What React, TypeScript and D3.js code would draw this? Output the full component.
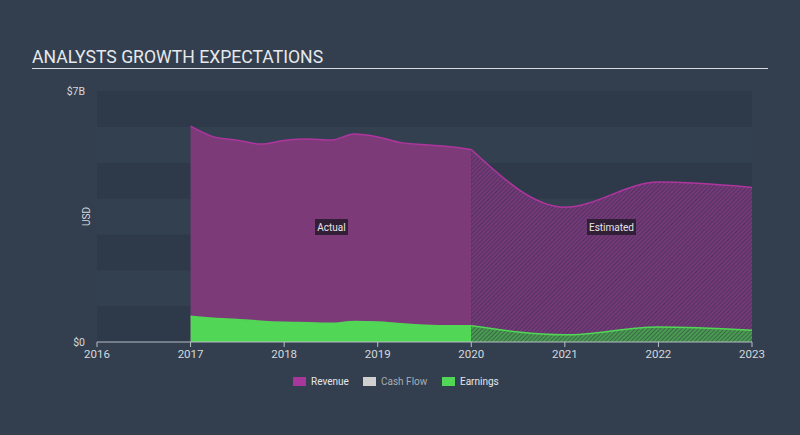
import React from "react";
import * as d3 from "d3";

const actualDates = [2017, 2017.25, 2017.5, 2017.75, 2018, 2018.25, 2018.5, 2018.75, 2019, 2019.25, 2019.5, 2019.75, 2020];
const actualRevenue = [6.02, 5.72, 5.63, 5.52, 5.62, 5.66, 5.63, 5.8, 5.72, 5.56, 5.5, 5.45, 5.37];
const actualEarnings = [0.72, 0.66, 0.63, 0.58, 0.55, 0.54, 0.52, 0.57, 0.56, 0.51, 0.47, 0.45, 0.45];
const estDates = [2020, 2021, 2022, 2023];
const estRevenue = [5.37, 3.76, 4.46, 4.31];
const estEarnings = [0.45, 0.2, 0.42, 0.33];
const yearTicks = [2016, 2017, 2018, 2019, 2020, 2021, 2022, 2023];
const legendItems = ["Revenue", "Cash Flow", "Earnings"];
const legendColors = ["#a8379c", "#d0d0d0", "#52d656"];

const W = 800;
const H = 435;

export default function App() {
  const x = d3.scaleLinear().domain([2016, 2023]).range([97, 752]);
  const y = d3.scaleLinear().domain([0, 7]).range([342, 91]);
  const font = "Roboto, 'Open Sans', sans-serif";

  const area = (dates: number[], vals: number[]) =>
    d3
      .area<number>()
      .x((_, i) => x(dates[i]))
      .y0(y(0))
      .y1((d) => y(d))
      .curve(d3.curveMonotoneX)(vals) || "";
  const line = (dates: number[], vals: number[]) =>
    d3
      .line<number>()
      .x((_, i) => x(dates[i]))
      .y((d) => y(d))
      .curve(d3.curveMonotoneX)(vals) || "";

  const bands = d3.range(7);
  const legendX = [293, 363, 442];

  return (
    <svg
      width={W}
      height={H}
      style={{ position: "absolute", left: 0, top: 0, display: "block" }}
      fontFamily={font}
    >
      <defs>
        <pattern id="hatchPurple" width="3" height="3" patternUnits="userSpaceOnUse" patternTransform="rotate(45)">
          <rect width="3" height="3" fill="#75397a" />
          <line x1="0" y1="0" x2="0" y2="3" stroke="#3a2f4a" strokeWidth="1.2" />
        </pattern>
        <pattern id="hatchGreen" width="3" height="3" patternUnits="userSpaceOnUse" patternTransform="rotate(45)">
          <rect width="3" height="3" fill="#4a9a52" />
          <line x1="0" y1="0" x2="0" y2="3" stroke="#2f4a3e" strokeWidth="1.2" />
        </pattern>
      </defs>
      <rect width={W} height={H} fill="#333f4e" />
      <text x={32} y={63} fill="#e6e9ec" fontSize={17.6}>
        ANALYSTS GROWTH EXPECTATIONS
      </text>
      <line x1={32} x2={768} y1={68.5} y2={68.5} stroke="#d8dce0" strokeWidth={1.2} />

      {bands.map((i) => (
        <rect
          key={i}
          x={x(2016)}
          width={x(2023) - x(2016)}
          y={y(i + 1)}
          height={y(i) - y(i + 1)}
          fill={i % 2 === 0 ? "#2e3a4a" : "#334050"}
        />
      ))}

      <path d={area(actualDates, actualRevenue)} fill="#7c3a79" />
      <path d={area(estDates, estRevenue)} fill="url(#hatchPurple)" />
      <path d={area(actualDates, actualEarnings)} fill="#52d656" />
      <path d={area(estDates, estEarnings)} fill="url(#hatchGreen)" />
      <path d={line(actualDates, actualRevenue)} fill="none" stroke="#b0359e" strokeWidth={1.5} />
      <path d={line(estDates, estRevenue)} fill="none" stroke="#b0359e" strokeWidth={1.5} />
      <path d={line(actualDates, actualEarnings)} fill="none" stroke="#52d656" strokeWidth={1.5} />
      <path d={line(estDates, estEarnings)} fill="none" stroke="#52d656" strokeWidth={1.5} />

      <line x1={x(2016)} x2={x(2023)} y1={y(0)} y2={y(0)} stroke="#b8bfc7" strokeWidth={1} />
      {yearTicks.map((t) => (
        <g key={t}>
          <line x1={x(t)} x2={x(t)} y1={y(0)} y2={y(0) + 5} stroke="#b8bfc7" strokeWidth={1} />
          <text x={x(t)} y={358} textAnchor="middle" fill="#d5d9de" fontSize={11.5}>
            {t}
          </text>
        </g>
      ))}

      <text x={85} y={95} textAnchor="end" fill="#d5d9de" fontSize={10.5}>
        $7B
      </text>
      <text x={85} y={346} textAnchor="end" fill="#d5d9de" fontSize={10.5}>
        $0
      </text>
      <text
        transform={`translate(90, ${y(3.5)}) rotate(-90)`}
        textAnchor="middle"
        fill="#d5d9de"
        fontSize={10}
      >
        USD
      </text>

      <g>
        <rect x={315} y={219} width={33} height={16} fill="#2a1d30" opacity={0.9} />
        <text x={331.5} y={231} textAnchor="middle" fill="#e8e4ea" fontSize={10}>
          Actual
        </text>
      </g>
      <g>
        <rect x={587} y={219} width={49} height={16} fill="#2a1d30" opacity={0.9} />
        <text x={611.5} y={231} textAnchor="middle" fill="#e8e4ea" fontSize={10}>
          Estimated
        </text>
      </g>

      {legendItems.map((name, i) => (
        <g key={name}>
          <rect x={legendX[i]} y={377} width={13} height={9} fill={legendColors[i]} />
          <text
            x={legendX[i] + 18}
            y={385}
            fill={i === 1 ? "#a7adb5" : "#e3e6ea"}
            fontSize={10}
          >
            {name}
          </text>
        </g>
      ))}
    </svg>
  );
}
